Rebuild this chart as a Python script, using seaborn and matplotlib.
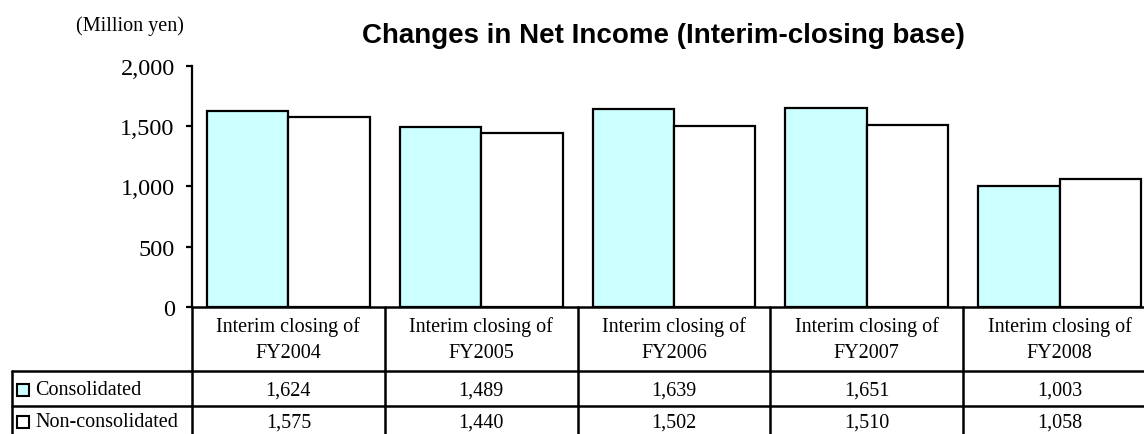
import numpy as np
import pandas as pd
import matplotlib
matplotlib.use('Agg')
import matplotlib.pyplot as plt
import matplotlib.transforms as mtransforms
from matplotlib.lines import Line2D
import seaborn as sns

# --- data ---
periods = ['FY2004', 'FY2005', 'FY2006', 'FY2007', 'FY2008']
consolidated = [1624, 1489, 1639, 1651, 1003]
non_consolidated = [1575, 1440, 1502, 1510, 1058]
series_names = ['Consolidated', 'Non-consolidated']
series_colors = ['#CCFFFF', '#FFFFFF']
y_ticks = [0, 500, 1000, 1500, 2000]

df = pd.DataFrame({
    'period': periods * 2,
    'series': [series_names[0]] * 5 + [series_names[1]] * 5,
    'value': consolidated + non_consolidated,
})

sns.set_style('white')
plt.rcParams['font.family'] = ['Liberation Serif', 'DejaVu Serif']
plt.rcParams['text.color'] = 'black'
plt.rcParams['ytick.color'] = 'black'
plt.rcParams['xtick.color'] = 'black'

W, H = 1144, 435
fig = plt.figure(figsize=(W / 100, H / 100), dpi=100)

def fx(px):
    return px / W

def fy(py):
    return 1 - py / H

# axes: left spine at 192px, 2000 at 67px, 0 at 308px; last column runs off the image
left, right, top, bottom = 192, 1156, 66.7, 308
ax = fig.add_axes([fx(left), fy(bottom), fx(right - left), (bottom - top) / H])

sns.barplot(data=df, x='period', y='value', hue='series', palette=series_colors,
            hue_order=series_names, order=periods, width=0.844, gap=0, saturation=1,
            edgecolor='black', linewidth=1.6, legend=False, ax=ax)

ax.set_xlim(-0.5, len(periods) - 0.5)
ax.set_ylim(0, 2000)
ax.set_yticks(y_ticks)
ax.set_yticklabels([f'{v:,}' for v in y_ticks], fontsize=17.5, color='black')
ax.tick_params(axis='y', direction='out', length=4.5, width=1.6, pad=8, left=True, colors='black')
ax.set_xticks([])
ax.set_xlabel('')
ax.set_ylabel('')
for side in ['top', 'right', 'bottom']:
    ax.spines[side].set_visible(False)
ax.spines['left'].set_linewidth(1.6)
ax.spines['left'].set_color('black')

fig.text(fx(130), fy(26), '(Million yen)', ha='center', va='center', fontsize=14.5, color='black')
fig.text(fx(663), fy(36), 'Changes in Net Income (Interim-closing base)', ha='center',
         va='center', fontsize=20, fontweight='bold', color='black',
         family=['Liberation Sans', 'DejaVu Sans'])

# --- data table under the chart ---
tr = mtransforms.blended_transform_factory(ax.transData, fig.transFigure)
lw = 1.8
row_lines = [308, 372, 407]
row2_bottom = 442
x_edges = np.arange(len(periods) + 1) - 0.5

# horizontal lines
fig.add_artist(Line2D([fx(left), 1.0], [fy(308), fy(308)], color='black', lw=lw, transform=fig.transFigure))
for py in row_lines[1:]:
    fig.add_artist(Line2D([fx(12), 1.0], [fy(py), fy(py)], color='black', lw=lw, transform=fig.transFigure))
# label column borders
for px in [12, left]:
    top_px = 372 if px == 12 else 308
    fig.add_artist(Line2D([fx(px), fx(px)], [fy(top_px), fy(row2_bottom)], color='black', lw=lw,
                          transform=fig.transFigure))
# column borders
for xe in x_edges[1:]:
    fig.add_artist(Line2D([xe, xe], [fy(308), fy(row2_bottom)], color='black', lw=lw, transform=tr))

for i, p in enumerate(periods):
    fig.text(i, fy(327), 'Interim closing of', ha='center', va='center', fontsize=14.5, transform=tr)
    fig.text(i, fy(353), p, ha='center', va='center', fontsize=14.5, transform=tr)
    fig.text(i, fy(391), f'{consolidated[i]:,}', ha='center', va='center', fontsize=14.5, transform=tr)
    fig.text(i, fy(423), f'{non_consolidated[i]:,}', ha='center', va='center', fontsize=14.5, transform=tr)

for name, color, py in zip(series_names, series_colors, [391, 423]):
    fig.add_artist(Line2D([fx(23.5)], [fy(py)], marker='s', markersize=8, markerfacecolor=color,
                          markeredgecolor='black', markeredgewidth=1.5, linestyle='none',
                          transform=fig.transFigure))
    fig.text(fx(35), fy(py), name, ha='left', va='center', fontsize=14.5)

fig.savefig('out.png', dpi=100)
